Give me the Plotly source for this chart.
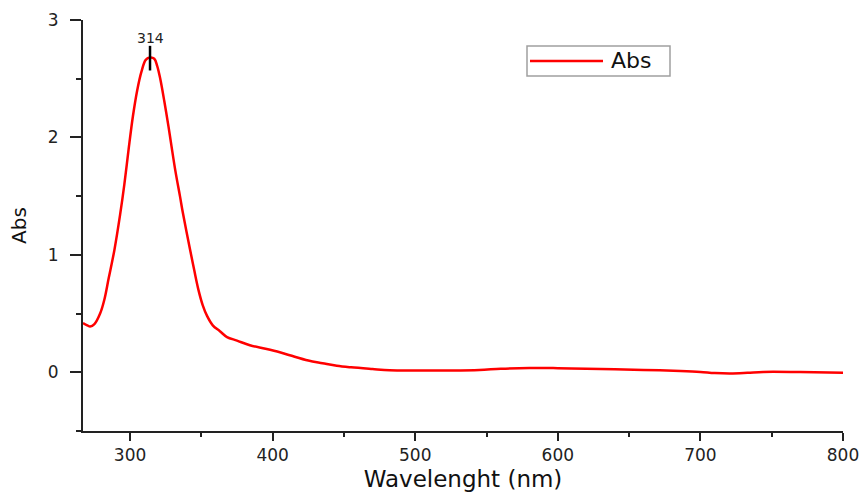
import plotly.graph_objects as go

# Data
wavelength = [267, 270, 272, 275, 279, 282, 285, 289, 293, 296, 299, 302, 305, 308, 311,
              314, 317, 319, 321, 324, 327, 329, 332, 335, 337, 342, 345, 348, 351, 354,
              358, 363, 368, 375, 384, 395, 405, 412, 425, 435, 445, 455, 470, 482, 500,
              525, 545, 560, 580, 600, 620, 640, 660, 686, 700, 710, 721, 733, 744, 770, 800]
absorbance = [0.42, 0.40, 0.39, 0.41, 0.50, 0.62, 0.80, 1.04, 1.34, 1.60, 1.90, 2.18, 2.40, 2.56, 2.66,
              2.68, 2.67, 2.61, 2.51, 2.31, 2.09, 1.93, 1.70, 1.50, 1.36, 1.05, 0.87, 0.70, 0.57, 0.48,
              0.40, 0.35, 0.30, 0.27, 0.23, 0.20, 0.17, 0.145, 0.10, 0.077, 0.055, 0.042, 0.028, 0.018, 0.016,
              0.016, 0.02, 0.03, 0.037, 0.035, 0.03, 0.025, 0.02, 0.011, 0.003, -0.007, -0.011, -0.005, 0.003, 0.002, -0.003]

series_name = "Abs"
peak_wavelength = 314
peak_marker = [2.57, 2.78]   # vertical peak marker span (Abs units)

x_ticks = [300, 400, 500, 600, 700, 800]
y_ticks = [0, 1, 2, 3]

FONT = "DejaVu Sans"
AXIS_COLOR = "#222222"
LINE_COLOR = "#ff0000"

# plot-area geometry (pixels) used to place the drawn legend box in paper coords
L, R, T, B = 83, 843, 20, 431
def px(xp):
    return (xp - L) / (R - L)
def py(yp):
    return (B - yp) / (B - T)

fig = go.Figure()
fig.add_trace(go.Scatter(
    x=wavelength, y=absorbance, mode="lines", name=series_name,
    line=dict(color=LINE_COLOR, width=2.5, shape="spline", smoothing=1.0),
    showlegend=False,
))

# Peak marker line and label
fig.add_shape(type="line", xref="x", yref="y",
              x0=peak_wavelength, x1=peak_wavelength, y0=peak_marker[0], y1=peak_marker[1],
              line=dict(color="black", width=2.5))
fig.add_annotation(x=peak_wavelength, y=peak_marker[1], xref="x", yref="y",
                   text=str(peak_wavelength), showarrow=False, yanchor="bottom", yshift=-2,
                   font=dict(family=FONT, size=14, color="#222"))

# Legend box (drawn)
fig.add_shape(type="rect", xref="paper", yref="paper",
              x0=px(527), x1=px(670), y0=py(76), y1=py(46),
              line=dict(color="#a0a0a0", width=1.5), fillcolor="white", layer="above")
fig.add_shape(type="line", xref="paper", yref="paper",
              x0=px(530), x1=px(603), y0=py(61), y1=py(61),
              line=dict(color=LINE_COLOR, width=2.5), layer="above")
fig.add_annotation(xref="paper", yref="paper", x=px(609), y=py(61),
                   text=series_name, showarrow=False, xanchor="left", yanchor="middle",
                   font=dict(family=FONT, size=22, color="#111"))

fig.update_layout(
    width=867, height=495,
    margin=dict(l=L, r=867 - R, t=T, b=495 - B),
    paper_bgcolor="white", plot_bgcolor="white",
    font=dict(family=FONT, color="#222"),
    showlegend=False,
    xaxis=dict(
        range=[267, 800], tickvals=x_ticks, ticktext=[str(v) for v in x_ticks],
        showgrid=False, zeroline=False, automargin=False,
        showline=True, linecolor=AXIS_COLOR, linewidth=2,
        ticks="outside", ticklen=8, tickwidth=2, tickcolor=AXIS_COLOR,
        minor=dict(dtick=50, tick0=250, ticks="outside", ticklen=4, tickwidth=2, tickcolor=AXIS_COLOR, showgrid=False),
        tickfont=dict(family=FONT, size=17, color="#222"),
        ticklabelstandoff=0,
        title=dict(text="Wavelenght (nm)", font=dict(family=FONT, size=23, color="#111"), standoff=6),
    ),
    yaxis=dict(
        range=[-0.5, 3], tickvals=y_ticks, ticktext=[str(v) for v in y_ticks],
        showgrid=False, zeroline=False, automargin=False,
        showline=True, linecolor=AXIS_COLOR, linewidth=2,
        ticks="outside", ticklen=11, tickwidth=2, tickcolor=AXIS_COLOR,
        minor=dict(dtick=0.5, tick0=-0.5, ticks="outside", ticklen=5, tickwidth=2, tickcolor=AXIS_COLOR, showgrid=False),
        tickfont=dict(family=FONT, size=17, color="#222"),
        ticklabelstandoff=8,
        title=dict(text="Abs", font=dict(family=FONT, size=20, color="#111"), standoff=16),
    ),
)

fig.write_html("out.html")
